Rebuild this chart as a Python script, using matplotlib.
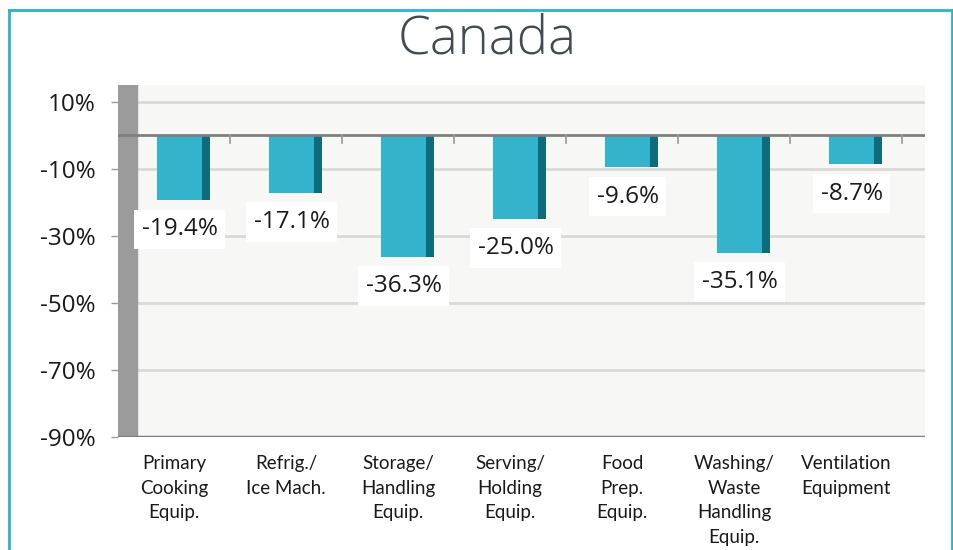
import matplotlib
matplotlib.use("Agg")
import matplotlib.pyplot as plt
from matplotlib.lines import Line2D
import numpy as np

title = "Canada"
categories = ["Primary\nCooking\nEquip.", "Refrig./\nIce Mach.", "Storage/\nHandling\nEquip.",
              "Serving/\nHolding\nEquip.", "Food\nPrep.\nEquip.", "Washing/\nWaste\nHandling\nEquip.",
              "Ventilation\nEquipment"]
values = [-19.4, -17.1, -36.3, -25.0, -9.6, -35.1, -8.7]
yticks = [10, -10, -30, -50, -70, -90]

FRONT = "#35b3cc"
SIDE = "#0e6b7a"
WALL = "#9b9b9b"
BG = "#f7f7f5"
GRID = "#d9d9d9"
TEAL = "#2ab3c9"

fig = plt.figure(figsize=(9.54, 5.5), dpi=100)
fig.patch.set_facecolor("white")

ax = fig.add_axes([118/954, 113/550, 807/954, 352/550])
ax.set_facecolor(BG)
ax.set_xlim(-0.5, 6.705)
ax.set_ylim(-90, 15)

x = np.arange(len(values))
# gridlines
for t in yticks:
    ax.axhline(t, color=GRID, lw=2, zorder=1)
# wall
ax.axvspan(-0.5, -0.33, color=WALL, zorder=2)
# bars: front face and dark side
ax.bar(x + 0.05, values, width=0.40, color=FRONT, zorder=3)
ax.bar(x + 0.285, values, width=0.07, color=SIDE, zorder=3)
# zero line & floor
ax.axhline(0, color="#7f7f7f", lw=2, zorder=4)
ax.axhline(-90, color="#7f7f7f", lw=2.5, zorder=4)
# small ticks below zero line between categories
for xi in np.arange(len(values)) + 0.5:
    ax.plot([xi, xi], [0, -2.2], color="#9a9a9a", lw=1.2, zorder=4)

# data labels
for xi, v in zip(x, values):
    ax.annotate(f"{v:.1f}%", (xi + 0.05, v), xytext=(0, -21), textcoords="offset points",
                ha="center", va="center", fontsize=17.5, family="Open Sans", color="#1a1a1a",
                bbox=dict(boxstyle="square,pad=0.32", fc="white", ec="none"), zorder=6)

for s in ax.spines.values():
    s.set_visible(False)
ax.set_yticks(yticks)
ax.set_yticklabels([f"{t}%" for t in yticks], fontsize=17.5, family="Open Sans", color="#1a1a1a")
ax.tick_params(axis="y", length=5, width=1, color="#9a9a9a", pad=11)
ax.set_xticks(x)
ax.set_xticklabels(categories, fontsize=13.5, family="Lato", color="#1a1a1a", linespacing=1.55, va="top")
ax.tick_params(axis="x", length=0, pad=13)

fig.text(487/954, 1 - 40/550, title, ha="center", va="center", fontsize=38, family="Open Sans",
         fontweight="light", color="#414b50")

# teal frame
fig.add_artist(Line2D([9/954, 9/954], [0, 1 - 10/550], color=TEAL, lw=2, transform=fig.transFigure))
fig.add_artist(Line2D([9/954, 952/954], [1 - 10/550, 1 - 10/550], color=TEAL, lw=2, transform=fig.transFigure))
fig.add_artist(Line2D([952/954, 952/954], [0, 1 - 10/550], color=TEAL, lw=2, transform=fig.transFigure))

fig.savefig("out.png", dpi=100)
